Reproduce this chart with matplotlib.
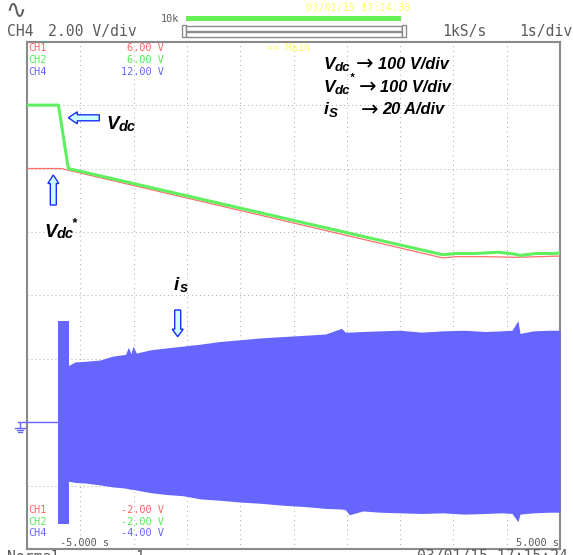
import matplotlib
matplotlib.use('Agg')
import matplotlib.pyplot as plt
from matplotlib.transforms import Affine2D
from matplotlib.patches import Rectangle, FancyArrow
from matplotlib.lines import Line2D

# CH2 : Vdc (vert)
vdc_t = [-5.0, -4.41, -4.225, 2.80, 3.05, 3.40, 3.85, 4.15, 4.25, 4.55, 4.90, 5.0]
vdc_v = [3.0, 3.0, 2.0, 0.64, 0.66, 0.66, 0.68, 0.65, 0.63, 0.66, 0.66, 0.67]
# CH1 : Vdc* (rouge)
vref_t = [-5.0, -4.36, 2.80, 3.05, 3.60, 4.20, 4.60, 5.0]
vref_v = [2.0, 2.0, 0.59, 0.61, 0.61, 0.60, 0.61, 0.62]
# CH4 : is (bleu), enveloppe haute / basse
gnd_t = [-5.17, -4.42]
gnd_v = [-2.0, -2.0]
burst_t = [-4.42, -4.21]
burst_top = [-0.40, -0.40]
burst_bot = [-3.60, -3.60]
is_t = [-4.23, -4.10, -3.90, -3.63, -3.40, -3.15, -3.10, -3.05, -3.01, -2.95,
        -2.69, -2.40, -2.07, -1.75, -1.40, -1.00, -0.60, -0.20, 0.20, 0.60,
        0.90, 0.97, 1.05, 1.30, 1.62, 2.00, 2.40, 2.80, 3.20, 3.60,
        3.90, 4.10, 4.21, 4.25, 4.50, 4.80, 5.00]
is_top = [-1.11, -1.05, -1.04, -1.02, -0.96, -0.93, -0.82, -0.92, -0.80, -0.91,
          -0.86, -0.83, -0.80, -0.77, -0.73, -0.70, -0.67, -0.65, -0.63, -0.61,
          -0.52, -0.58, -0.58, -0.57, -0.56, -0.55, -0.58, -0.56, -0.55, -0.57,
          -0.56, -0.55, -0.40, -0.60, -0.56, -0.55, -0.55]
is_bot = [-2.93, -2.95, -2.96, -2.99, -3.02, -3.04, -3.05, -3.06, -3.06, -3.07,
          -3.11, -3.14, -3.16, -3.21, -3.23, -3.26, -3.28, -3.31, -3.33, -3.36,
          -3.37, -3.38, -3.46, -3.40, -3.42, -3.43, -3.44, -3.43, -3.45, -3.44,
          -3.43, -3.44, -3.57, -3.45, -3.43, -3.42, -3.42]

# textes de l'ecran
ch_names = ['CH1', 'CH2', 'CH4']
ch_top = ['6.00 V', '6.00 V', '12.00 V']
ch_bot = ['-2.00 V', '-2.00 V', '-4.00 V']
ch_colors = ['#ff6666', '#55ee55', '#6666ff']

W, H = 573, 555
fig = plt.figure(figsize=(W / 100, H / 100), dpi=100)
fig.patch.set_facecolor('white')
# coordonnees en pixels, origine en haut a gauche
pix = Affine2D().scale(1 / W, -1 / H).translate(0, 1) + fig.transFigure

x0, x1, y0, y1 = 27, 560, 41.7, 549
ax = fig.add_axes([x0 / W, (H - y1) / H, (x1 - x0) / W, (y1 - y0) / H])
ax.set_xlim(-5, 5)
ax.set_ylim(-4, 4)
ax.set_xticks([])
ax.set_yticks([])
for s in ax.spines.values():
    s.set_color('#8a8a8a')
    s.set_linewidth(1.5)

# grille en pointilles
for gx in range(-4, 5):
    ax.axvline(gx, color='#9a9a9a', lw=0.75, dashes=(0.75, 3.8), zorder=1)
for gy in range(-3, 4):
    ax.axhline(gy, color='#9a9a9a', lw=0.75, dashes=(0.75, 3.1), zorder=1)

# traces
ax.plot(gnd_t, gnd_v, color='#6666ff', lw=1, clip_on=False, zorder=3)
ax.fill_between(burst_t, burst_bot, burst_top, color='#6666ff', lw=0, zorder=3)
ax.fill_between(is_t, is_bot, is_top, color='#6666ff', lw=0, zorder=3)
ax.plot(vref_t, vref_v, color='#ff6f6f', lw=0.9, zorder=4)
ax.plot(vdc_t, vdc_v, color='#5ef05e', lw=2.2, zorder=5)

# symbole de masse
gnd_col = '#6666ff'
fig.add_artist(Line2D([20, 20], [422.7, 427.3], color=gnd_col, lw=1, transform=pix))
for (xa, xb, yy) in [(15, 24.5, 427.5), (16.5, 23, 429.5), (18, 21.5, 431.7)]:
    fig.add_artist(Line2D([xa, xb], [yy, yy], color=gnd_col, lw=1, transform=pix))

mono = 'DejaVu Sans Mono'
gray = '#5c5c5c'

# en-tete
fig.text(5, 10.5, '\u223f', color=gray, fontsize=18, family='DejaVu Sans', transform=pix,
         va='center', ha='left')
fig.text(6.5, 35.7, 'CH4', color=gray, fontsize=10.6, family=mono, transform=pix)
fig.text(48, 35.7, '2.00 V/div', color=gray, fontsize=10.6, family=mono, transform=pix)
fig.text(442, 35.7, '1kS/s', color=gray, fontsize=10.6, family=mono, transform=pix)
fig.text(519, 35.7, '1s/div', color=gray, fontsize=10.6, family=mono, transform=pix)
fig.text(161, 22.5, '10k', color=gray, fontsize=7.4, family=mono, transform=pix)
fig.text(306.5, 10.6, '03/01/15 17:14:30', color='#ffff66', fontsize=7.4, family=mono,
         transform=pix)
fig.add_artist(Rectangle((186, 15.7), 215, 5, color='#66ee55', lw=0, transform=pix))
for r in [(182, 25, 4, 12.3), (186, 25.7, 215.5, 5), (186, 31.7, 215.5, 5), (401.7, 25, 4, 12.3)]:
    fig.add_artist(Rectangle(r[:2], r[2], r[3], fill=True, fc='white', ec='#8a8a8a', lw=1,
                             transform=pix))

# libelles des voies
for i in range(3):
    fig.text(28.5, 50.7 + 12.2 * i, ch_names[i], color=ch_colors[i], fontsize=7.4,
             family=mono, transform=pix, zorder=10)
    fig.text(164, 50.7 + 12.2 * i, ch_top[i], color=ch_colors[i], fontsize=7.4,
             family=mono, transform=pix, ha='right', zorder=10)
    fig.text(28.5, 513.3 + 11.3 * i, ch_names[i], color=ch_colors[i], fontsize=7.4,
             family=mono, transform=pix, zorder=10)
    fig.text(164, 513.3 + 11.3 * i, ch_bot[i], color=ch_colors[i], fontsize=7.4,
             family=mono, transform=pix, ha='right', zorder=10)
fig.text(267, 50.7, '<< Main', color='#ffff66', fontsize=7.4, family=mono, transform=pix)
fig.text(60, 546.5, '-5.000 s', color=gray, fontsize=7.4, family=mono, transform=pix)
fig.text(558.5, 546.5, '5.000 s', color=gray, fontsize=7.4, family=mono, transform=pix,
         ha='right')
# ligne d'etat coupee en bas (comme sur la capture)
fig.text(7, 561.5, 'Normal', color=gray, fontsize=10.6, family=mono, transform=pix)
fig.text(135, 561.5, '1', color=gray, fontsize=10.6, family=mono, transform=pix)
fig.text(417, 561.5, '03/01/15 17:15:24', color=gray, fontsize=10.6, family=mono,
         transform=pix)

# annotations
bi = dict(family=['Liberation Sans', 'DejaVu Sans'], weight='bold', style='italic',
          color='black', transform=pix)
fig.text(106, 128.8, 'V', fontsize=13.5, **bi)
fig.text(118.5, 131, 'dc', fontsize=10.5, **bi)
fig.text(44, 236.7, 'V', fontsize=13.5, **bi)
fig.text(57, 238.5, 'dc', fontsize=10.5, **bi)
fig.text(71.5, 226, '*', fontsize=9, **bi)
fig.text(174, 290, 'i', fontsize=13.5, **bi)
fig.text(179.5, 292.5, 's', fontsize=10.5, **bi)

rows_y = [68.8, 91.7, 114.5]
fig.text(324, rows_y[0], 'V', fontsize=12.5, **bi)
fig.text(334.5, rows_y[0] + 2.5, 'dc', fontsize=9.5, **bi)
fig.text(324, rows_y[1], 'V', fontsize=12.5, **bi)
fig.text(334.5, rows_y[1] + 2.5, 'dc', fontsize=9.5, **bi)
fig.text(350, rows_y[1] - 11, '*', fontsize=8, **bi)
fig.text(324, rows_y[2], 'i', fontsize=12.5, **bi)
fig.text(329, rows_y[2] + 2.2, 'S', fontsize=9.5, **bi)
arrow_x = [355.5, 358.5, 360.5]
val_x = [378.5, 380.5, 382.5]
vals = ['100 V/div', '100 V/div', '20 A/div']
for i in range(3):
    fig.text(arrow_x[i], rows_y[i] + 1.5, '\u2192', fontsize=15, family=['DejaVu Sans'],
             color='black', transform=pix)
    fig.text(val_x[i], rows_y[i], vals[i], fontsize=11.8, **bi)

# fleches creuses
akw = dict(length_includes_head=True, fc='#ccffff', ec='#1a2cff', lw=1, transform=pix)
fig.add_artist(FancyArrow(99.3, 117.8, -31, 0, width=6, head_width=12, head_length=9, **akw))
fig.add_artist(FancyArrow(53.3, 205, 0, -30, width=6, head_width=11, head_length=8.5, **akw))
fig.add_artist(FancyArrow(177.7, 310, 0, 26.7, width=6, head_width=11, head_length=7.5, **akw))

fig.savefig('out.png', dpi=100, facecolor='white')
